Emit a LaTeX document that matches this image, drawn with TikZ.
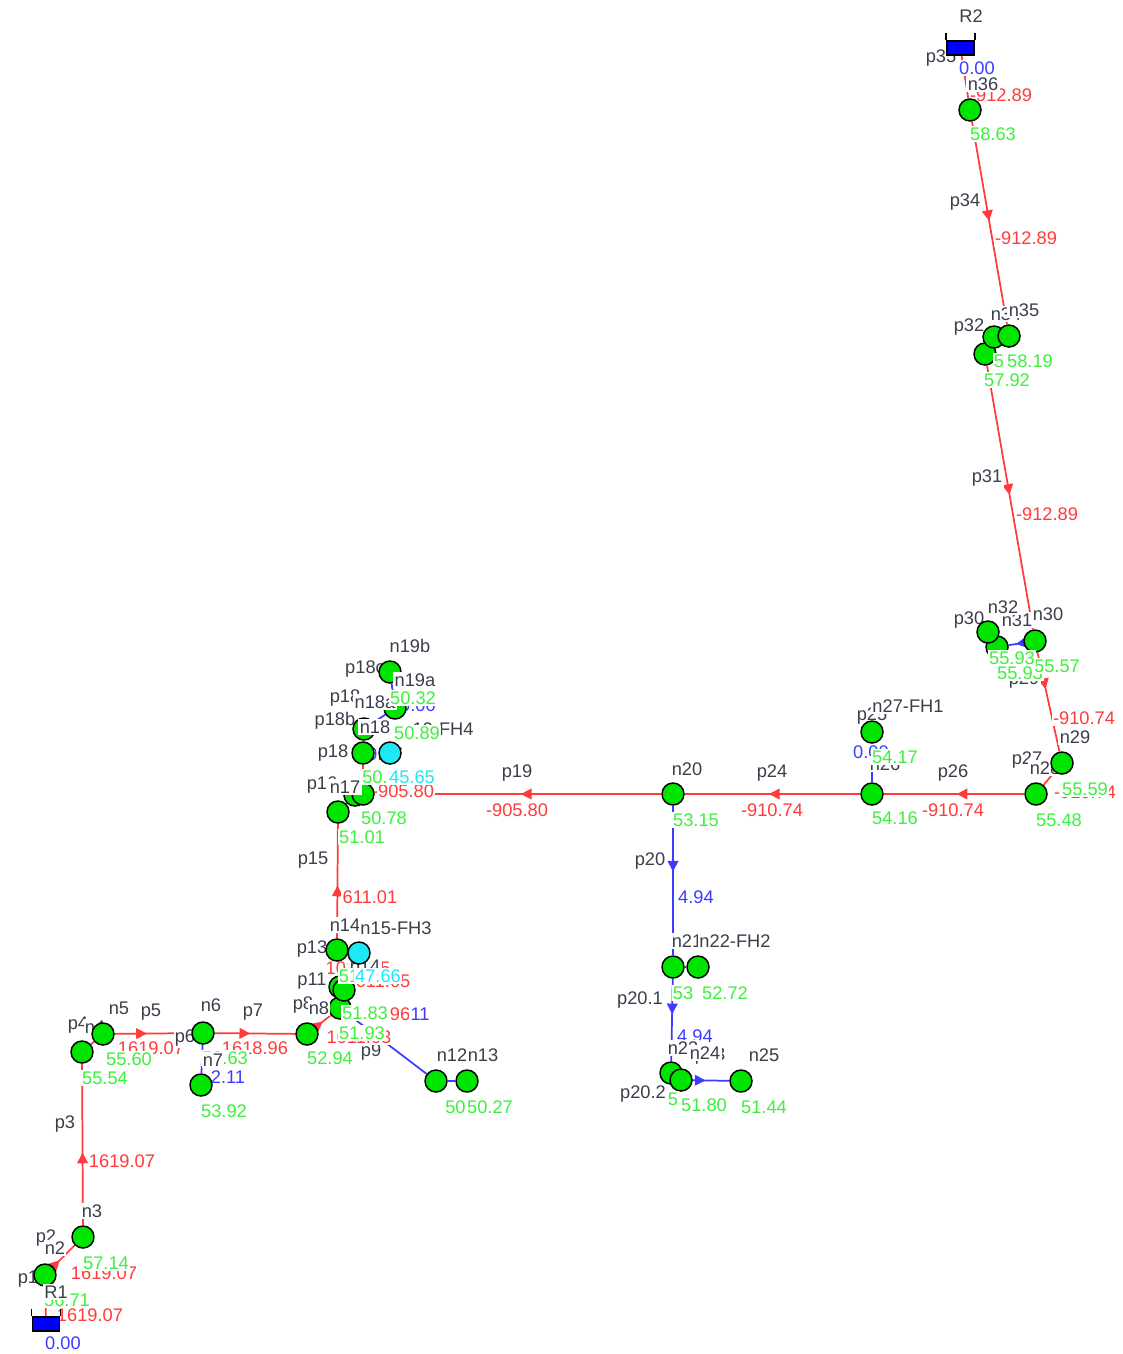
\documentclass[tikz,border=0pt]{standalone}
\usepackage{fontspec}
\setmainfont{Liberation Sans}
\usetikzlibrary{arrows.meta,decorations.markings}
\pgfdeclarelayer{pipes}\pgfdeclarelayer{under}\pgfdeclarelayer{top}
\pgfsetlayers{pipes,under,main,top}
\definecolor{namec}{HTML}{3A3F4A}
\definecolor{presc}{HTML}{3DF03D}
\definecolor{redc}{HTML}{FF3B3B}
\definecolor{bluec}{HTML}{3C3CFF}
\definecolor{cyanc}{HTML}{1FE8F5}
\tikzset{
 x=.75pt,y=-.75pt,
 txt/.style={font=\fontsize{13.7}{15}\selectfont,fill=white,inner xsep=1pt,inner ysep=1.5pt},
 nm/.style={txt,text=namec},
 pr/.style={txt,text=presc},
 fl/.style={txt,text=redc},
 fb/.style={txt,text=bluec},
 cy/.style={txt,text=cyanc},
 junc/.style={circle,draw=black,line width=1.1pt,fill=green!90!black,minimum size=16.5pt,inner sep=0pt},
 hyd/.style={junc,fill=cyanc},
 res/.style={rectangle,draw=black,line width=1.1pt,fill=blue,minimum width=20.5pt,minimum height=10.5pt,inner sep=0pt},
 rp/.style={draw=redc,line width=1.3pt},
 bp/.style={draw=bluec,line width=1.3pt},
 arrowat/.style={postaction={decorate},decoration={markings,mark=at position #1 with {\arrow{Triangle[length=8pt,width=8pt]}}}},
}
\newcount\lc
\newcommand{\Tx}[4]{\global\advance\lc by 1 \node[#1] (t\the\lc) at (#2,#3) {#4};}
\begin{document}
\begin{tikzpicture}
\useasboundingbox (0,0) rectangle (1122,1354);
% reservoirs
\begin{pgfonlayer}{top}
\node[res] (R1) at (46,1324) {};
\node[res] (R2) at (960.5,48) {};
\draw[line width=1.1pt] (R1.north west) -- ++(0,-7);
\draw[line width=1.1pt] (R1.north east) -- ++(0,-7);
\draw[line width=1.1pt] (R2.north west) -- ++(0,-7);
\draw[line width=1.1pt] (R2.north east) -- ++(0,-7);
\end{pgfonlayer}
% junctions
\node[junc] (n2) at (45,1275) {};
\node[junc] (n3) at (83,1237) {};
\node[junc] (n4) at (82,1052) {};
\node[junc] (n5) at (103,1034) {};
\node[junc] (n6) at (203,1033) {};
\node[junc] (n7) at (201,1085) {};
\node[junc] (n8) at (307,1034) {};
\node[junc] (n9) at (340,1008) {};
\node[junc] (n10) at (340,987) {};
\node[junc] (n11) at (344,990) {};
\node[junc] (n14) at (337,950) {};
\node[hyd] (n15) at (359,953) {};
\node[junc] (n12) at (436,1081) {};
\node[junc] (n13) at (467,1081) {};
\node[junc] (n16) at (338,812) {};
\node[junc] (n17) at (355,795) {};
\node[junc] (n17b) at (363,794) {};
\node[junc] (n18) at (363,753) {};
\node[hyd] (n19) at (390,753) {};
\node[junc] (n18b) at (364,729) {};
\node[junc] (n19a) at (395,708) {};
\node[junc] (n19b) at (390,672) {};
\node[junc] (n20) at (673,794) {};
\node[junc] (n26) at (872,794) {};
\node[junc] (n27) at (872,732) {};
\node[junc] (n28) at (1036,794) {};
\node[junc] (n29) at (1062,763) {};
\node[junc] (n30) at (1035,641) {};
\node[junc] (n31) at (997,647) {};
\node[junc] (n32) at (988,632) {};
\node[junc] (n33) at (985,354) {};
\node[junc] (n34) at (994,337) {};
\node[junc] (n35) at (1009,336) {};
\node[junc] (n36) at (970,110) {};
\node[junc] (n21) at (673,967) {};
\node[junc] (n22) at (698,967) {};
\node[junc] (n23) at (671,1073) {};
\node[junc] (n24) at (681,1080) {};
\node[junc] (n25) at (741,1081) {};
% pipes
\begin{pgfonlayer}{pipes}
\draw[rp] (R1) -- (n2);
\draw[rp,arrowat=.3] (n2) -- (n3);
\draw[rp,arrowat=.45] (n3) -- (n4);
\draw[rp] (n4) -- (n5);
\draw[rp,arrowat=.42] (n5) -- (n6);
\draw[bp] (n6) -- (n7);
\draw[rp,arrowat=.44] (n6) -- (n8);
\draw[rp,arrowat=.45] (n8) -- (n9);
\draw[rp] (n9) -- (n11);
\draw[rp] (n11) -- (n14);
\draw[bp] (n9) -- (n12);
\draw[bp] (n12) -- (n13);
\draw[bp] (n14) -- (n15);
\draw[rp,arrowat=.46] (n14) -- (n16);
\draw[rp] (n16) -- (n17);
\draw[rp] (n17) -- (n17b);
\draw[rp] (n17b) -- (n18);
\draw[bp] (n18) -- (n19);
\draw[rp] (n18) -- (n18b);
\draw[bp] (n18b) -- (n19a);
\draw[bp] (n19a) -- (n19b);
\draw[rp,arrowat=.49] (n20) -- (n17b);
\draw[rp,arrowat=.52] (n26) -- (n20);
\draw[bp] (n26) -- (n27);
\draw[rp,arrowat=.48] (n28) -- (n26);
\draw[rp] (n29) -- (n28);
\draw[rp,arrowat=.37] (n30) -- (n29);
\draw[bp,arrowat=.5] (n30) -- (n31);
\draw[bp] (n31) -- (n32);
\draw[rp,arrowat=.49] (n33) -- (n30);
\draw[rp] (n34) -- (n33);
\draw[rp] (n35) -- (n34);
\draw[rp,arrowat=.49] (n36) -- (n35);
\draw[rp] (R2) -- (n36);
\draw[bp,arrowat=.44] (n20) -- (n21);
\draw[bp] (n21) -- (n22);
\draw[bp,arrowat=.43] (n21) -- (n23);
\draw[bp] (n23) -- (n24);
\draw[bp,arrowat=.35] (n24) -- (n25);
\end{pgfonlayer}
% labels that lie under the junctions
\begin{pgfonlayer}{under}
\Tx{fl}{104}{1273}{1619.07}
\Tx{fl}{151}{1048}{1619.07}
\Tx{fl}{255}{1048}{1618.96}
\Tx{fl}{1001}{95}{-912.89}
\Tx{fl}{403}{791}{-905.80}
\Tx{fl}{358}{968}{1011.05}
\Tx{fl}{378}{981}{1011.05}
\Tx{nm}{365}{968}{p14}
\Tx{fb}{418}{705}{0.00}
\Tx{fb}{228}{1077}{2.11}
\Tx{nm}{46}{1238}{p2}
\Tx{nm}{78}{1025}{p4}
\Tx{nm}{95}{1027}{n4}
\Tx{nm}{185}{1038}{p6}
\Tx{nm}{303}{1005}{p8}
\Tx{nm}{28}{1279}{p1}
\Tx{nm}{312}{949}{p13}
\Tx{nm}{969}{620}{p30}
\Tx{nm}{1017}{620}{n31}
\Tx{nm}{1003}{607}{n32}
\Tx{nm}{941}{58}{p35}
\Tx{nm}{322}{785}{p16}
\Tx{nm}{333}{753}{p18}
\Tx{nm}{345}{698}{p18}
\Tx{nm}{335}{721}{p18b}
\Tx{nm}{365}{669}{p18c}
\Tx{nm}{1027}{760}{p27}
\Tx{nm}{1045}{768}{n28}
\Tx{nm}{872}{716}{p25}
\Tx{nm}{969}{327}{p32}
\Tx{fb}{385}{754}{0.07}
\end{pgfonlayer}
% flows and pressures covered by the names
\Tx{fl}{90}{1315}{1619.07}
\Tx{pr}{67}{1300}{56.71}
\Tx{pr}{225}{1058}{53.63}
\Tx{fb}{695}{1036}{4.94}
\Tx{fb}{871}{752}{0.00}
\Tx{nm}{885}{764}{n26}
\Tx{nm}{1024}{680}{p29}
% names
\Tx{nm}{56}{1292}{R1}
\Tx{nm}{971}{16}{R2}
\Tx{nm}{55}{1248}{n2}
\Tx{nm}{92}{1211}{n3}
\Tx{nm}{119}{1008}{n5}
\Tx{nm}{151}{1012}{p5}
\Tx{nm}{211}{1005}{n6}
\Tx{nm}{253}{1012}{p7}
\Tx{nm}{65}{1124}{p3}
\Tx{nm}{319}{1008}{n8}
\Tx{nm}{371}{1052}{p9}
\Tx{nm}{452}{1055}{n12}
\Tx{nm}{483}{1055}{n13}
\Tx{nm}{345}{925}{n14}
\Tx{nm}{396}{928}{n15-FH3}
\Tx{nm}{313}{860}{p15}
\Tx{nm}{312}{981}{p11}
\Tx{nm}{410}{646}{n19b}
\Tx{nm}{415}{680}{n19a}
\Tx{nm}{375}{702}{n18a}
\Tx{nm}{438}{729}{n19-FH4}
\Tx{nm}{375}{727}{n18}
\Tx{nm}{345}{787}{n17}
\Tx{nm}{517}{773}{p19}
\Tx{nm}{687}{769}{n20}
\Tx{nm}{772}{773}{p24}
\Tx{nm}{953}{773}{p26}
\Tx{nm}{908}{706}{n27-FH1}
\Tx{nm}{1075}{737}{n29}
\Tx{nm}{1048}{614}{n30}
\Tx{nm}{987}{478}{p31}
\Tx{nm}{965}{202}{p34}
\Tx{nm}{1006}{314}{n34}
\Tx{nm}{1024}{310}{n35}
\Tx{nm}{983}{84}{n36}
\Tx{nm}{650}{861}{p20}
\Tx{nm}{687}{941}{n21}
\Tx{nm}{735}{941}{n22-FH2}
\Tx{nm}{640}{1000}{p20.1}
\Tx{nm}{683}{1048}{n23}
\Tx{nm}{710}{1056}{p23}
\Tx{nm}{705}{1053}{n24}
\Tx{nm}{764}{1055}{n25}
\Tx{nm}{643}{1094}{p20.2}
\Tx{nm}{213}{1060}{n7}
% flows
\Tx{fl}{122}{1161}{1619.07}
\Tx{fl}{370}{897}{611.01}
\Tx{fl}{400}{1014}{96}
\Tx{fb}{420}{1014}{11}
\Tx{fl}{359}{1037}{1011.03}
\Tx{fl}{1026}{238}{-912.89}
\Tx{fl}{1047}{514}{-912.89}
\Tx{fl}{1084}{718}{-910.74}
\Tx{fl}{953}{810}{-910.74}
\Tx{fl}{772}{810}{-910.74}
\Tx{fl}{1085}{792}{-910.74}
\Tx{fl}{517}{810}{-905.80}
\Tx{fb}{696}{897}{4.94}
\Tx{fb}{977}{68}{0.00}
\Tx{fb}{63}{1343}{0.00}
% pressures
\Tx{pr}{106}{1263}{57.14}
\Tx{pr}{105}{1078}{55.54}
\Tx{pr}{129}{1059}{55.60}
\Tx{pr}{224}{1111}{53.92}
\Tx{pr}{330}{1058}{52.94}
\Tx{pr}{362}{1033}{51.93}
\Tx{pr}{365}{1013}{51.83}
\Tx{pr}{349}{976}{51}
\Tx{cy}{378}{976}{47.66}
\Tx{pr}{458}{1107}{50.}
\Tx{pr}{490}{1107}{50.27}
\Tx{pr}{362}{837}{51.01}
\Tx{pr}{384}{818}{50.78}
\Tx{pr}{375}{777}{50.}
\Tx{cy}{412}{777}{45.65}
\Tx{pr}{417}{733}{50.89}
\Tx{pr}{413}{698}{50.32}
\Tx{pr}{696}{820}{53.15}
\Tx{pr}{895}{818}{54.16}
\Tx{pr}{895}{757}{54.17}
\Tx{pr}{1059}{820}{55.48}
\Tx{pr}{1085}{789}{55.59}
\Tx{pr}{1020}{673}{55.93}
\Tx{pr}{1057}{666}{55.57}
\Tx{pr}{1012}{658}{55.93}
\Tx{pr}{993}{134}{58.63}
\Tx{pr}{1007}{380}{57.92}
\Tx{pr}{999}{361}{5}
\Tx{pr}{1030}{361}{58.19}
\Tx{pr}{683}{993}{53}
\Tx{pr}{725}{993}{52.72}
\Tx{pr}{673}{1099}{5}
\Tx{pr}{704}{1105}{51.80}
\Tx{pr}{764}{1107}{51.44}
\end{tikzpicture}
\end{document}
